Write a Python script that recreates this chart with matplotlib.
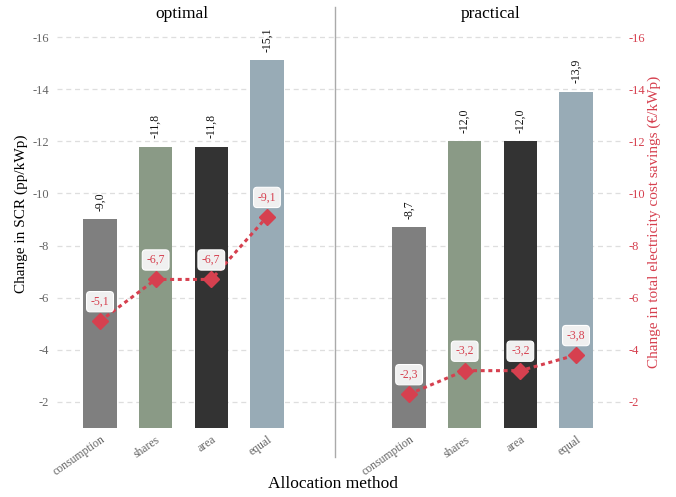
import matplotlib.pyplot as plt
from matplotlib.lines import Line2D

plt.rcParams['font.family'] = ['Liberation Serif', 'DejaVu Serif']

methods = ['consumption', 'shares', 'area', 'equal']
bar_colors = ['#7f7f7f', '#8a9a86', '#333333', '#98abb6']

# change in self-consumption rate (pp/kWp)
scr_optimal = [-9.0, -11.8, -11.8, -15.1]
scr_practical = [-8.7, -12.0, -12.0, -13.9]

# change in total electricity cost savings (EUR/kWp)
cost_optimal = [-5.1, -6.7, -6.7, -9.1]
cost_practical = [-2.3, -3.2, -3.2, -3.8]

yticks = [-2, -4, -6, -8, -10, -12, -14, -16]
red = '#d6404f'
tick_gray = '#666666'


def fmt(v):
    return f'{v:.1f}'.replace('.', ',')


fig = plt.figure(figsize=(6.76, 4.97), dpi=100)
W, H = 676, 497


def px_axes(x0, x1, y_top, y_bot):
    return fig.add_axes([x0 / W, 1 - y_bot / H, (x1 - x0) / W, (y_bot - y_top) / H])


ax_l = px_axes(57, 335, 24, 428)
ax_r = px_axes(335, 623, 24, 428)


def draw_panel(ax, scr, cost, xlim, right=False):
    x = list(range(len(methods)))
    ax.bar(x, scr, width=0.6, color=bar_colors, zorder=2)
    for xi, v in zip(x, scr):
        ax.annotate(fmt(v), (xi, v), xytext=(0, 6), textcoords='offset points',
                    rotation=90, ha='center', va='bottom', fontsize=8.5, color='#111111')
    ax.plot(x, cost, color=red, linestyle=(0, (1.3, 1.2)), lw=2.2,
            marker='D', ms=8, zorder=3)
    for xi, v in zip(x, cost):
        ax.annotate(fmt(v), (xi, v), xytext=(0, 14), textcoords='offset points',
                    ha='center', va='center', fontsize=8.5, color=red, zorder=4,
                    bbox=dict(boxstyle='round,pad=0.35,rounding_size=0.3',
                              fc='#f0f0f0', ec='white', lw=0.8))
    ax.set_xlim(*xlim)
    ax.set_ylim(-1, -16.5)
    ax.set_yticks(yticks)
    ax.set_yticklabels([str(t) for t in yticks])
    ax.yaxis.grid(True, color='#dedede', linestyle=(0, (4, 3)), lw=0.9, zorder=0)
    ax.set_xticks(x)
    ax.set_xticklabels(methods, rotation=35, ha='right', rotation_mode='anchor',
                       fontsize=8.5, color=tick_gray)
    ax.tick_params(axis='x', length=0, pad=4)
    ax.tick_params(axis='y', length=0, pad=6, labelsize=9)
    for s in ax.spines.values():
        s.set_visible(False)
    ax.patch.set_alpha(0)
    if right:
        ax.yaxis.tick_right()
        ax.tick_params(axis='y', labelcolor=red, pad=4)
    else:
        ax.tick_params(axis='y', labelcolor=tick_gray)


draw_panel(ax_l, scr_optimal, cost_optimal, (-0.773, 4.223))
draw_panel(ax_r, scr_practical, cost_practical, (-1.331, 3.845), right=True)

# panel titles and separator
fig.text(182 / W, 1 - 14 / H, 'optimal', ha='center', va='center', fontsize=12.5)
fig.text(491 / W, 1 - 14 / H, 'practical', ha='center', va='center', fontsize=12.5)
fig.add_artist(Line2D([335 / W, 335 / W], [1 - 7 / H, 1 - 457 / H],
                      color='#aaaaaa', lw=1))

fig.text(21 / W, 1 - 214 / H, 'Change in SCR (pp/kWp)', rotation=90,
         ha='center', va='center', fontsize=11)
fig.text(654 / W, 1 - 222 / H, 'Change in total electricity cost savings (€/kWp)',
         rotation=90, ha='center', va='center', fontsize=11, color=red)
fig.text(333 / W, 1 - 484 / H, 'Allocation method', ha='center', va='center',
         fontsize=12.5)

fig.savefig('out.png', dpi=100)
